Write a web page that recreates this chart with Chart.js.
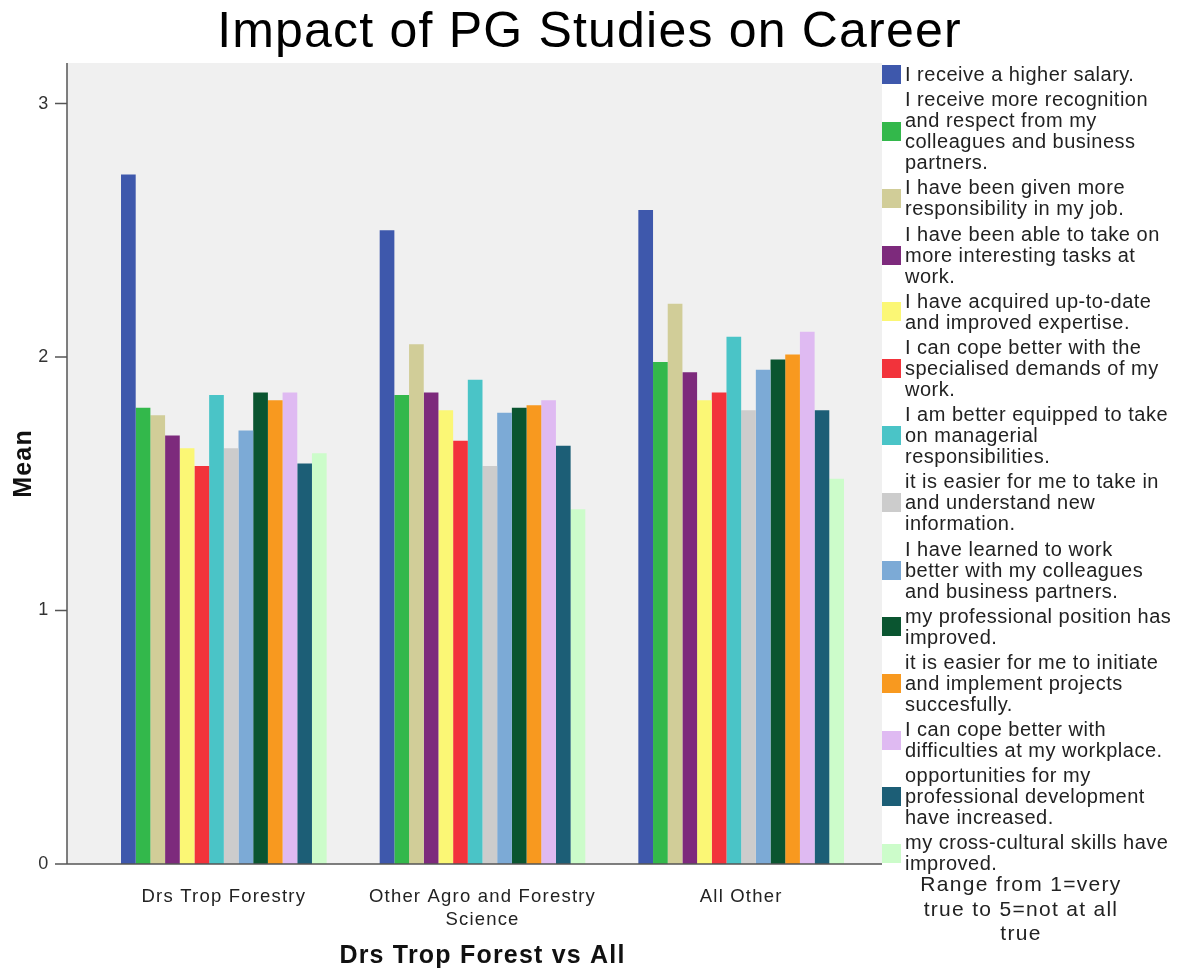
<!DOCTYPE html>
<html>
<head>
<meta charset="utf-8">
<script src="https://cdn.jsdelivr.net/npm/chart.js@4"></script>
<style>
  html, body { margin: 0; padding: 0; background: #fff; }
  #wrap { position: relative; width: 1179px; height: 971px; }
  #legend { position: absolute; left: 882px; top: 64px; width: 297px; font-family: "Liberation Sans", Arial, sans-serif; font-size: 20px; letter-spacing: 0.5px; line-height: 21px; color: #222; }
  .item { display: flex; align-items: center; margin-bottom: 4.2px; white-space: nowrap; }
  .box { width: 19px; height: 19px; flex: none; margin-right: 4px; }
  #note { position: absolute; left: 900px; top: 872px; width: 242px; text-align: center; font-family: "Liberation Sans", Arial, sans-serif; font-size: 21px; letter-spacing: 1.3px; line-height: 24.5px; color: #222; }
</style>
</head>
<body>
<div id="wrap">
  <canvas id="chart" width="1179" height="971"></canvas>
  <div id="legend"></div>
  <div id="note">Range from 1=very<br>true to 5=not at all<br>true</div>
</div>
<script>
// ---- data ----
const categories = ["Drs Trop Forestry", ["Other Agro and Forestry", "Science"], "All Other"];

const salary             = [2.72, 2.50, 2.58];
const recognition        = [1.80, 1.85, 1.98];
const responsibility     = [1.77, 2.05, 2.21];
const interestingTasks   = [1.69, 1.86, 1.94];
const expertise          = [1.64, 1.79, 1.83];
const specialisedDemands = [1.57, 1.67, 1.86];
const managerial         = [1.85, 1.91, 2.08];
const newInformation     = [1.64, 1.57, 1.79];
const teamwork           = [1.71, 1.78, 1.95];
const position           = [1.86, 1.80, 1.99];
const projects           = [1.83, 1.81, 2.01];
const difficulties       = [1.86, 1.83, 2.10];
const development        = [1.58, 1.65, 1.79];
const crossCultural      = [1.62, 1.40, 1.52];

const seriesValues = [
  salary, recognition, responsibility, interestingTasks, expertise,
  specialisedDemands, managerial, newInformation, teamwork, position,
  projects, difficulties, development, crossCultural
];

const seriesLabels = [
  ["I receive a higher salary."],
  ["I receive more recognition", "and respect from my", "colleagues and business", "partners."],
  ["I have been given more", "responsibility in my job."],
  ["I have been able to take on", "more interesting tasks at", "work."],
  ["I have acquired up-to-date", "and improved expertise."],
  ["I can cope better with the", "specialised demands of my", "work."],
  ["I am better equipped to take", "on managerial", "responsibilities."],
  ["it is easier for me to take in", "and understand new", "information."],
  ["I have learned to work", "better with my colleagues", "and business partners."],
  ["my professional position has", "improved."],
  ["it is easier for me to initiate", "and implement projects", "succesfully."],
  ["I can cope better with", "difficulties at my workplace."],
  ["opportunities for my", "professional development", "have increased."],
  ["my cross-cultural skills have", "improved."]
];

const seriesColors = [
  "#3e58ac", "#33b84b", "#d1cd98", "#7d2a7c", "#fbf775",
  "#f2333b", "#4ac4c7", "#cccccc", "#7caad6", "#0a5530",
  "#f8991f", "#dfbaf2", "#1c5e76", "#ccfcca"
];

const yTicks = [0, 1, 2, 3];

const fontFamily = "'Liberation Sans', Arial, sans-serif";

// ---- plot background + SPSS style axis lines ----
const plotFrame = {
  id: "plotFrame",
  beforeDraw(chart) {
    // the SPSS text is a bit spaced out
    chart.ctx.letterSpacing = "1.2px";
  },
  beforeDatasetsDraw(chart) {
    const { ctx, chartArea } = chart;
    ctx.save();
    ctx.fillStyle = "#f0f0f0";
    ctx.fillRect(67, chartArea.top, 882 - 67, chartArea.bottom - chartArea.top);
    ctx.restore();
  },
  afterDatasetsDraw(chart) {
    const { ctx, chartArea, scales } = chart;
    ctx.save();
    ctx.strokeStyle = "#555";
    ctx.lineWidth = 1.5;
    ctx.beginPath();
    ctx.moveTo(67, chartArea.top);
    ctx.lineTo(67, chartArea.bottom);
    ctx.lineTo(882, chartArea.bottom);
    yTicks.forEach(v => {
      const y = scales.y.getPixelForValue(v);
      ctx.moveTo(55, y);
      ctx.lineTo(67, y);
    });
    ctx.stroke();
    ctx.restore();
  }
};

// ---- legend (HTML, multi-line labels) ----
const legend = document.getElementById("legend");
seriesLabels.forEach((lines, i) => {
  const item = document.createElement("div");
  item.className = "item";
  item.innerHTML = '<div class="box" style="background:' + seriesColors[i] + '"></div><div>' + lines.join("<br>") + "</div>";
  legend.appendChild(item);
});

new Chart(document.getElementById("chart"), {
  type: "bar",
  data: {
    labels: categories,
    datasets: seriesValues.map((vals, i) => ({
      label: seriesLabels[i].join(" "),
      data: vals,
      backgroundColor: seriesColors[i],
      borderWidth: 0
    }))
  },
  plugins: [plotFrame],
  options: {
    responsive: false,
    animation: false,
    datasets: { bar: { categoryPercentage: 0.795, barPercentage: 1.0 } },
    plugins: {
      legend: { display: false },
      tooltip: { enabled: false },
      title: {
        display: true,
        text: "Impact of PG Studies on Career",
        color: "#000",
        font: { family: fontFamily, size: 50, weight: "normal" },
        padding: { top: 3, bottom: 0 }
      }
    },
    scales: {
      x: {
        offset: true,
        grid: { display: false },
        border: { display: false },
        ticks: {
          color: "#222",
          padding: 13.5,
          maxRotation: 0,
          font: { family: fontFamily, size: 18.5, lineHeight: 1.25 }
        },
        title: {
          display: true,
          text: "Drs Trop Forest vs All",
          color: "#111",
          font: { family: fontFamily, size: 25, weight: "bold" },
          padding: { top: 0, bottom: 0 }
        },
        afterFit(scale) { scale.height = 107; }
      },
      y: {
        min: 0,
        max: 3.16,
        grid: { display: false },
        border: { display: false },
        ticks: {
          stepSize: 1,
          color: "#333",
          padding: 37,
          font: { family: fontFamily, size: 18 }
        },
        afterBuildTicks(scale) {
          scale.ticks = yTicks.map(v => ({ value: v }));
        },
        title: {
          display: true,
          text: "Mean",
          color: "#111",
          font: { family: fontFamily, size: 25, weight: "bold" },
          padding: { top: 9, bottom: 0 }
        },
        afterFit(scale) { scale.width = 94.5; }
      },
      // empty right-hand axis, only keeps room for the legend
      side: {
        position: "right",
        display: true,
        grid: { display: false },
        border: { display: false },
        ticks: { display: false },
        afterFit(scale) { scale.width = 308.5; }
      }
    }
  }
});
</script>
</body>
</html>
